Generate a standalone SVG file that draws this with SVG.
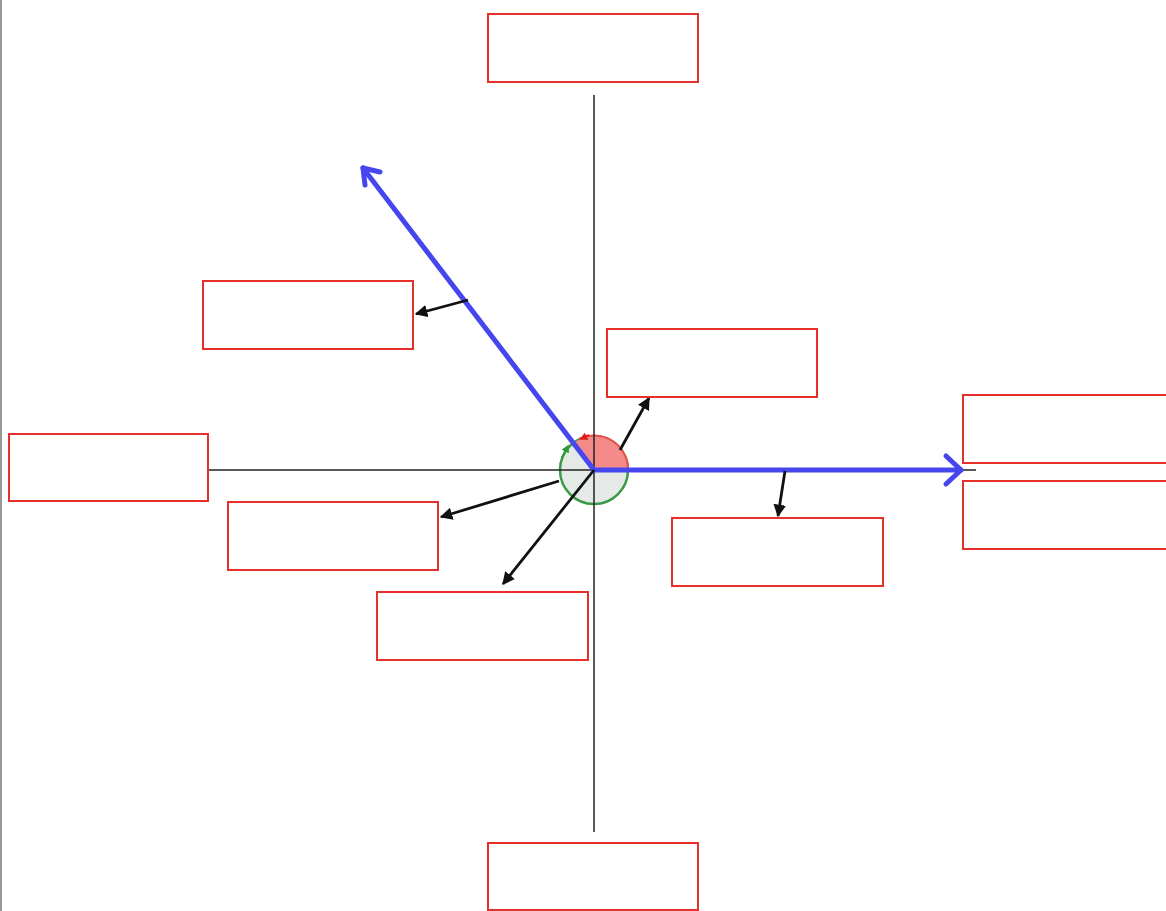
<svg xmlns="http://www.w3.org/2000/svg" width="1166" height="911" viewBox="0 0 1166 911">
<style>
.box{fill:#fff;stroke:#e8302a;stroke-width:2}
.axis{stroke:#222;stroke-width:1.5;fill:none}
.blue{stroke:#4646ee;stroke-width:5;fill:none;stroke-linecap:round;stroke-linejoin:round}
.blk{stroke:#111;stroke-width:2.8;fill:none}
</style>
<defs>
<marker id="ah" viewBox="0 0 10 10" refX="9" refY="5" markerWidth="4.5" markerHeight="4.5" orient="auto" markerUnits="strokeWidth">
<path d="M0,0 L10,5 L0,10 Z" fill="#111"/>
</marker>
<marker id="ahr" viewBox="0 0 10 10" refX="5" refY="5" markerWidth="4" markerHeight="4" orient="auto" markerUnits="strokeWidth">
<path d="M0,0 L10,5 L0,10 Z" fill="#e02020"/>
</marker>
<marker id="ahg" viewBox="0 0 10 10" refX="5" refY="5" markerWidth="4" markerHeight="4" orient="auto" markerUnits="strokeWidth">
<path d="M0,0 L10,5 L0,10 Z" fill="#2a9a3a"/>
</marker>
</defs>
<rect x="0" y="0" width="1166" height="911" fill="#fff"/>
<line x1="1" y1="0" x2="1" y2="911" stroke="#999" stroke-width="2"/>
<g id="connectors">
<g id="angle">
<circle cx="594" cy="470" r="34" fill="#e6eae6" stroke="#3a9a48" stroke-width="2.5"/>
<path d="M594,470 L573.4,443 A34,34 0 0 1 628,470 Z" fill="#f48a8a" stroke="none"/>
<path d="M579,439 A34,34 0 0 1 628,470" fill="none" stroke="#e85050" stroke-width="2"/>
<path d="M589,435 L583,438" stroke="#e02020" stroke-width="2" marker-end="url(#ahr)"/>
<path d="M562,458 L567,448" stroke="#2a9a3a" stroke-width="2" marker-end="url(#ahg)"/>
</g>
<line class="axis" x1="594" y1="95" x2="594" y2="832"/>
<line class="axis" x1="209" y1="470" x2="976" y2="470"/>
<line class="blue" x1="594" y1="470" x2="961" y2="470"/>
<polyline class="blue" points="946,456 961,470 946,484"/>
<line class="blue" x1="594" y1="470" x2="363" y2="168"/>
<polyline class="blue" points="365,185 363,168 380,172"/>
<line class="blk" x1="468" y1="300" x2="416" y2="314" marker-end="url(#ah)"/>
<line class="blk" x1="620" y1="450" x2="649" y2="398" marker-end="url(#ah)"/>
<line class="blk" x1="785" y1="471" x2="778" y2="516" marker-end="url(#ah)"/>
<line class="blk" x1="559" y1="481" x2="441" y2="517" marker-end="url(#ah)"/>
<line class="blk" x1="594" y1="470" x2="503" y2="584" marker-end="url(#ah)"/>
</g>
<g id="n-top"><rect class="box" x="488" y="14" width="210" height="68"/></g>
<g id="n-upleft"><rect class="box" x="203" y="281" width="210" height="68"/></g>
<g id="n-centerright"><rect class="box" x="607" y="329" width="210" height="68"/></g>
<g id="n-left"><rect class="box" x="9" y="434" width="199" height="67"/></g>
<g id="n-right1"><rect class="box" x="963" y="395" width="210" height="68"/></g>
<g id="n-right2"><rect class="box" x="963" y="481" width="210" height="68"/></g>
<g id="n-lowleft1"><rect class="box" x="228" y="502" width="210" height="68"/></g>
<g id="n-lowright"><rect class="box" x="672" y="518" width="211" height="68"/></g>
<g id="n-lowleft2"><rect class="box" x="377" y="592" width="211" height="68"/></g>
<g id="n-bottom"><rect class="box" x="488" y="843" width="210" height="67"/></g>
</svg>
